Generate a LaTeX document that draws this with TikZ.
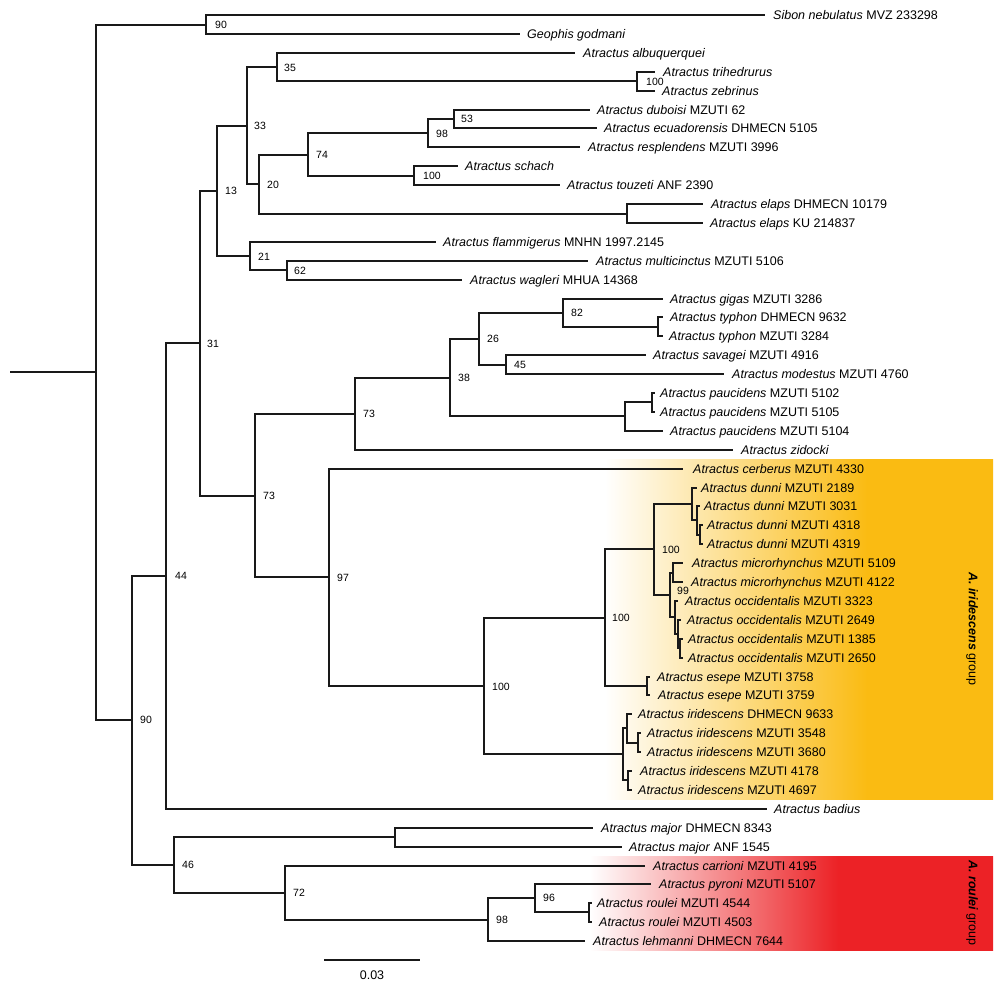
\documentclass[tikz,border=0pt]{standalone}
\usepackage{fontspec}
\setmainfont{Liberation Sans}
\definecolor{orng}{RGB}{250,187,18}
\definecolor{rd}{RGB}{236,34,38}
\definecolor{ln}{RGB}{25,25,25}
\pgfdeclarehorizontalshading{orgshade}{100bp}{color(0bp)=(white); color(25.6bp)=(white); color(59bp)=(orng); color(100bp)=(orng)}
\pgfdeclarehorizontalshading{redshade}{100bp}{color(0bp)=(white); color(25.6bp)=(white); color(56bp)=(rd); color(100bp)=(rd)}
\newcommand\tleaf[5]{\coordinate (#1) at (#2,#4); \node[leaf] (#1-l) at (#3,#4) {#5};}
\newcommand\tedge[2]{\draw[br] (#1) |- (#2);}
\newcommand\bsl[4]{\node[bs] (#1) at (#2,#3) {#4};}
\begin{document}
\begin{tikzpicture}[x=1pt,y=-1pt,
  br/.style={line width=1.8pt, draw=ln},
  leaf/.style={anchor=base west, inner sep=0pt, yshift=-4.4pt, font=\fontsize{12.5}{14}\selectfont},
  bs/.style={anchor=west, inner sep=0pt, font=\fontsize{10.5}{12}\selectfont},
  grp/.style={rotate=-90, inner sep=0pt, font=\fontsize{12.5}{14}\selectfont}]
\useasboundingbox (0,0) rectangle (1000,988);
% backgrounds
\shade[shading=orgshade] (600,459) rectangle (993,799);
\shade[shading=redshade] (585,856) rectangle (993,950);
\node[grp] (gI) at (972,629) {\textbf{\textit{A. iridescens}} group};
\node[grp] (gR) at (972,903) {\textbf{\textit{A. roulei}} group};
% internal nodes
\coordinate (rootstem) at (10,372);
\coordinate (root) at (96,372);
\coordinate (n90a) at (206,25);
\coordinate (n90b) at (132,720);
\coordinate (n44) at (166,576);
\coordinate (n31) at (200,343);
\coordinate (n13) at (217,191);
\coordinate (n33) at (247,126);
\coordinate (n35) at (277,67);
\coordinate (n100a) at (637,81);
\coordinate (n20) at (259,184);
\coordinate (n74) at (308,155);
\coordinate (n98a) at (428,133);
\coordinate (n53) at (454,119);
\coordinate (n100b) at (414,176);
\coordinate (nelaps) at (627,214);
\coordinate (n21) at (250,256);
\coordinate (n62) at (287,270);
\coordinate (n73b) at (255,496);
\coordinate (n73a) at (355,414);
\coordinate (n38) at (450,378);
\coordinate (n26) at (479,339);
\coordinate (n82) at (563,313);
\coordinate (ntyphon) at (658,327);
\coordinate (n45) at (506,365);
\coordinate (npauc) at (625,416);
\coordinate (npauc2) at (652,402);
\coordinate (n97) at (329,577);
\coordinate (n100c) at (484,686);
\coordinate (n100d) at (605,618);
\coordinate (n100e) at (654,549);
\coordinate (ndunni) at (692,504);
\coordinate (nd2) at (697,520);
\coordinate (nd3) at (700,535);
\coordinate (nM) at (670,595);
\coordinate (nmicro) at (673,573);
\coordinate (nocc) at (675,617);
\coordinate (nocc2) at (678,634);
\coordinate (nocc3) at (680,648);
\coordinate (nesepe) at (647,686);
\coordinate (nirid) at (623,754);
\coordinate (ni1) at (627,728);
\coordinate (ni2) at (638,743);
\coordinate (ni3) at (628,780);
\coordinate (n46) at (174,865);
\coordinate (nmajor) at (395,837);
\coordinate (n72) at (285,893);
\coordinate (n98b) at (488,920);
\coordinate (n96) at (535,898);
\coordinate (nroulei) at (589,912);
% leaves
\tleaf{sibon}{765}{773}{15}{\textit{Sibon nebulatus} MVZ 233298}
\tleaf{geophis}{520}{527}{34}{\textit{Geophis godmani}}
\tleaf{albu}{575}{583}{53}{\textit{Atractus albuquerquei}}
\tleaf{trih}{655}{663}{72}{\textit{Atractus trihedrurus}}
\tleaf{zebr}{655}{662}{91}{\textit{Atractus zebrinus}}
\tleaf{dubo}{590}{597}{110}{\textit{Atractus duboisi} MZUTI 62}
\tleaf{ecua}{597}{604}{128}{\textit{Atractus ecuadorensis} DHMECN 5105}
\tleaf{resp}{580}{588}{147}{\textit{Atractus resplendens} MZUTI 3996}
\tleaf{scha}{458}{465}{166}{\textit{Atractus schach}}
\tleaf{touz}{560}{567}{185}{\textit{Atractus touzeti} ANF 2390}
\tleaf{elap1}{703}{711}{204}{\textit{Atractus elaps} DHMECN 10179}
\tleaf{elap2}{703}{710}{223}{\textit{Atractus elaps} KU 214837}
\tleaf{flam}{436}{443}{242}{\textit{Atractus flammigerus} MNHN 1997.2145}
\tleaf{mult}{588}{596}{261}{\textit{Atractus multicinctus} MZUTI 5106}
\tleaf{wagl}{462}{470}{280}{\textit{Atractus wagleri} MHUA 14368}
\tleaf{giga}{663}{670}{299}{\textit{Atractus gigas} MZUTI 3286}
\tleaf{typh1}{663}{670}{317}{\textit{Atractus typhon} DHMECN 9632}
\tleaf{typh2}{663}{669}{336}{\textit{Atractus typhon} MZUTI 3284}
\tleaf{sava}{646}{653}{355}{\textit{Atractus savagei} MZUTI 4916}
\tleaf{mode}{724}{732}{374}{\textit{Atractus modestus} MZUTI 4760}
\tleaf{pau1}{655}{660}{393}{\textit{Atractus paucidens} MZUTI 5102}
\tleaf{pau2}{655}{660}{412}{\textit{Atractus paucidens} MZUTI 5105}
\tleaf{pau3}{663}{670}{431}{\textit{Atractus paucidens} MZUTI 5104}
\tleaf{zido}{733}{741}{450}{\textit{Atractus zidocki}}
\tleaf{cerb}{683}{693}{469}{\textit{Atractus cerberus} MZUTI 4330}
\tleaf{dun1}{697}{701}{488}{\textit{Atractus dunni} MZUTI 2189}
\tleaf{dun2}{700}{704}{506}{\textit{Atractus dunni} MZUTI 3031}
\tleaf{dun3}{703}{707}{525}{\textit{Atractus dunni} MZUTI 4318}
\tleaf{dun4}{703}{707}{544}{\textit{Atractus dunni} MZUTI 4319}
\tleaf{mic1}{683}{692}{563}{\textit{Atractus microrhynchus} MZUTI 5109}
\tleaf{mic2}{683}{691}{582}{\textit{Atractus microrhynchus} MZUTI 4122}
\tleaf{occ1}{678}{685}{601}{\textit{Atractus occidentalis} MZUTI 3323}
\tleaf{occ2}{681}{687}{620}{\textit{Atractus occidentalis} MZUTI 2649}
\tleaf{occ3}{683}{688}{639}{\textit{Atractus occidentalis} MZUTI 1385}
\tleaf{occ4}{683}{688}{658}{\textit{Atractus occidentalis} MZUTI 2650}
\tleaf{ese1}{650}{657}{677}{\textit{Atractus esepe} MZUTI 3758}
\tleaf{ese2}{650}{658}{695}{\textit{Atractus esepe} MZUTI 3759}
\tleaf{iri1}{632}{638}{714}{\textit{Atractus iridescens} DHMECN 9633}
\tleaf{iri2}{641}{647}{733}{\textit{Atractus iridescens} MZUTI 3548}
\tleaf{iri3}{641}{647}{752}{\textit{Atractus iridescens} MZUTI 3680}
\tleaf{iri4}{632}{640}{771}{\textit{Atractus iridescens} MZUTI 4178}
\tleaf{iri5}{632}{638}{790}{\textit{Atractus iridescens} MZUTI 4697}
\tleaf{badi}{767}{774}{809}{\textit{Atractus badius}}
\tleaf{maj1}{593}{601}{828}{\textit{Atractus major} DHMECN 8343}
\tleaf{maj2}{622}{629}{847}{\textit{Atractus major} ANF 1545}
\tleaf{carr}{645}{653}{866}{\textit{Atractus carrioni} MZUTI 4195}
\tleaf{pyro}{651}{659}{884}{\textit{Atractus pyroni} MZUTI 5107}
\tleaf{rou1}{592}{597}{903}{\textit{Atractus roulei} MZUTI 4544}
\tleaf{rou2}{592}{599}{922}{\textit{Atractus roulei} MZUTI 4503}
\tleaf{lehm}{585}{593}{941}{\textit{Atractus lehmanni} DHMECN 7644}
% branches
\draw[br] (rootstem) -- (root);
\tedge{root}{n90a} \tedge{root}{n90b}
\tedge{n90a}{sibon} \tedge{n90a}{geophis}
\tedge{n90b}{n44} \tedge{n90b}{n46}
\tedge{n44}{n31} \tedge{n44}{badi}
\tedge{n31}{n13} \tedge{n31}{n73b}
\tedge{n13}{n33} \tedge{n13}{n21}
\tedge{n33}{n35} \tedge{n33}{n20}
\tedge{n35}{albu} \tedge{n35}{n100a}
\tedge{n100a}{trih} \tedge{n100a}{zebr}
\tedge{n20}{n74} \tedge{n20}{nelaps}
\tedge{n74}{n98a} \tedge{n74}{n100b}
\tedge{n98a}{n53} \tedge{n98a}{resp}
\tedge{n53}{dubo} \tedge{n53}{ecua}
\tedge{n100b}{scha} \tedge{n100b}{touz}
\tedge{nelaps}{elap1} \tedge{nelaps}{elap2}
\tedge{n21}{flam} \tedge{n21}{n62}
\tedge{n62}{mult} \tedge{n62}{wagl}
\tedge{n73b}{n73a} \tedge{n73b}{n97}
\tedge{n73a}{n38} \tedge{n73a}{zido}
\tedge{n38}{n26} \tedge{n38}{npauc}
\tedge{n26}{n82} \tedge{n26}{n45}
\tedge{n82}{giga} \tedge{n82}{ntyphon}
\tedge{ntyphon}{typh1} \tedge{ntyphon}{typh2}
\tedge{n45}{sava} \tedge{n45}{mode}
\tedge{npauc}{npauc2} \tedge{npauc}{pau3}
\tedge{npauc2}{pau1} \tedge{npauc2}{pau2}
\tedge{n97}{cerb} \tedge{n97}{n100c}
\tedge{n100c}{n100d} \tedge{n100c}{nirid}
\tedge{n100d}{n100e} \tedge{n100d}{nesepe}
\tedge{n100e}{ndunni} \tedge{n100e}{nM}
\tedge{ndunni}{dun1} \tedge{ndunni}{nd2}
\tedge{nd2}{dun2} \tedge{nd2}{nd3}
\tedge{nd3}{dun3} \tedge{nd3}{dun4}
\tedge{nM}{nmicro} \tedge{nM}{nocc}
\tedge{nmicro}{mic1} \tedge{nmicro}{mic2}
\tedge{nocc}{occ1} \tedge{nocc}{nocc2}
\tedge{nocc2}{occ2} \tedge{nocc2}{nocc3}
\tedge{nocc3}{occ3} \tedge{nocc3}{occ4}
\tedge{nesepe}{ese1} \tedge{nesepe}{ese2}
\tedge{nirid}{ni1} \tedge{nirid}{ni3}
\tedge{ni1}{iri1} \tedge{ni1}{ni2}
\tedge{ni2}{iri2} \tedge{ni2}{iri3}
\tedge{ni3}{iri4} \tedge{ni3}{iri5}
\tedge{n46}{nmajor} \tedge{n46}{n72}
\tedge{nmajor}{maj1} \tedge{nmajor}{maj2}
\tedge{n72}{carr} \tedge{n72}{n98b}
\tedge{n98b}{n96} \tedge{n98b}{lehm}
\tedge{n96}{pyro} \tedge{n96}{nroulei}
\tedge{nroulei}{rou1} \tedge{nroulei}{rou2}
% support values
\bsl{b90a}{215}{25}{90}
\bsl{b90b}{140}{720}{90}
\bsl{b44}{175}{576}{44}
\bsl{b31}{207}{343.5}{31}
\bsl{b13}{225}{191}{13}
\bsl{b33}{254}{126}{33}
\bsl{b35}{284}{68}{35}
\bsl{b100a}{646}{82}{100}
\bsl{b20}{267}{184.5}{20}
\bsl{b74}{316}{155}{74}
\bsl{b98a}{436}{134}{98}
\bsl{b53}{461}{119}{53}
\bsl{b100b}{423}{176}{100}
\bsl{b21}{258}{257}{21}
\bsl{b62}{294}{270.5}{62}
\bsl{b73b}{263}{496}{73}
\bsl{b73a}{363}{414}{73}
\bsl{b38}{458}{378}{38}
\bsl{b26}{487}{339}{26}
\bsl{b82}{571}{313}{82}
\bsl{b45}{514}{365}{45}
\bsl{b97}{337}{577.5}{97}
\bsl{b100c}{492}{686.5}{100}
\bsl{b100d}{612}{617.5}{100}
\bsl{b100e}{662}{549.5}{100}
\bsl{b99}{677}{591}{99}
\bsl{b46}{182}{865}{46}
\bsl{b72}{293}{893}{72}
\bsl{b98b}{496}{920}{98}
\bsl{b96}{543}{898}{96}
% scale bar
\coordinate (sb1) at (324,960);
\coordinate (sb2) at (420,960);
\draw[br] (sb1) -- (sb2);
\node[font=\fontsize{12.5}{14}\selectfont, inner sep=0pt] (sbl) at (372,975) {0.03};
\end{tikzpicture}
\end{document}
